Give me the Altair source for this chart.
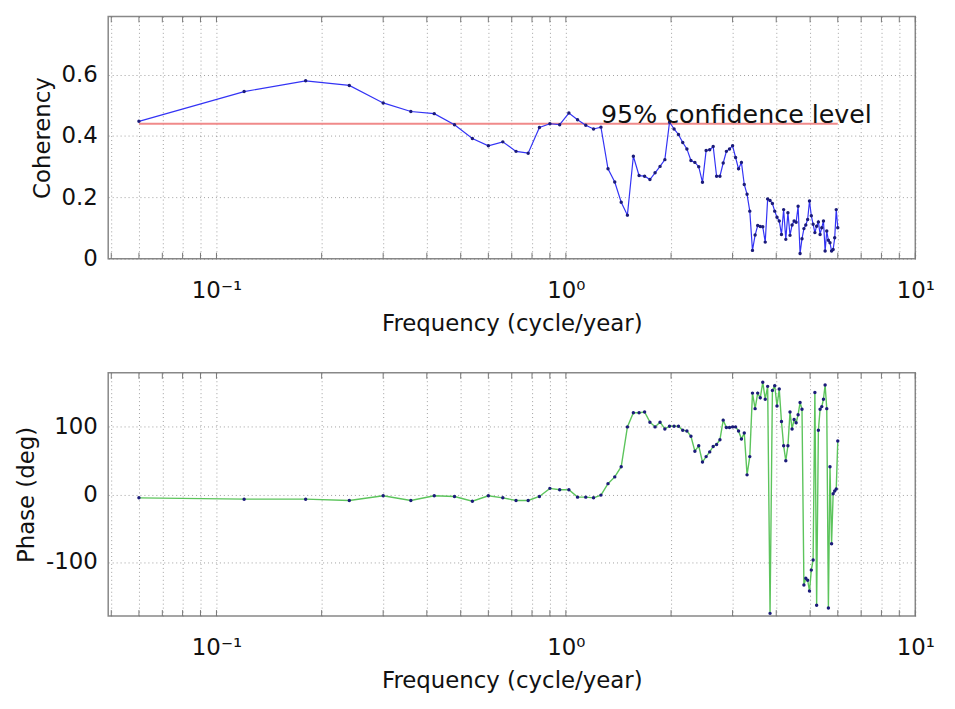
import altair as alt
import pandas as pd

# ---------------- data ----------------
freq = [0.06, 0.12, 0.18, 0.24, 0.30, 0.36, 0.42, 0.48, 0.54, 0.60,
        0.66, 0.72, 0.78, 0.84, 0.90, 0.96, 1.02, 1.08, 1.14, 1.20,
        1.26, 1.32, 1.38, 1.44, 1.50, 1.56, 1.62, 1.68, 1.74, 1.80,
        1.86, 1.92, 1.98, 2.04, 2.10, 2.16, 2.22, 2.28, 2.34, 2.40,
        2.46, 2.52, 2.58, 2.64, 2.70, 2.76, 2.82, 2.88, 2.94, 3.00,
        3.06, 3.12, 3.18, 3.24, 3.30, 3.36, 3.42, 3.48, 3.54, 3.60,
        3.66, 3.72, 3.78, 3.84, 3.90, 3.96, 4.02, 4.08, 4.14, 4.20,
        4.26, 4.32, 4.38, 4.44, 4.50, 4.56, 4.62, 4.68, 4.74, 4.80,
        4.86, 4.92, 4.98, 5.04, 5.10, 5.16, 5.22, 5.28, 5.34, 5.40,
        5.46, 5.52, 5.58, 5.64, 5.70, 5.76, 5.82, 5.88, 5.94, 6.00]

coherency = [0.448, 0.545, 0.580, 0.565, 0.508, 0.480, 0.473, 0.437, 0.392, 0.368,
             0.381, 0.350, 0.344, 0.428, 0.440, 0.437, 0.475, 0.453, 0.435, 0.423,
             0.429, 0.293, 0.250, 0.184, 0.142, 0.334, 0.271, 0.269, 0.258, 0.280,
             0.301, 0.323, 0.445, 0.423, 0.405, 0.379, 0.358, 0.320, 0.314, 0.300,
             0.249, 0.353, 0.355, 0.366, 0.269, 0.269, 0.312, 0.350, 0.358, 0.368,
             0.330, 0.293, 0.314, 0.242, 0.210, 0.155, 0.027, 0.077, 0.108, 0.105,
             0.104, 0.054, 0.195, 0.190, 0.180, 0.155, 0.135, 0.123, 0.079, 0.160,
             0.063, 0.150, 0.076, 0.110, 0.123, 0.119, 0.171, 0.017, 0.065, 0.098,
             0.110, 0.128, 0.188, 0.140, 0.112, 0.085, 0.106, 0.120, 0.079, 0.101,
             0.123, 0.025, 0.090, 0.060, 0.052, 0.025, 0.030, 0.068, 0.160, 0.101]

phase = [-5, -7, -7, -9, -2, -9, -2, -3, -10, -2,
         -5, -9, -9, -3, 9, 7, 7, -4, -4, -5,
         -1, 16, 26, 41, 100, 121, 121, 122, 107, 100,
         107, 97, 101, 101, 101, 95, 94, 86, 64, 72,
         48, 56, 63, 71, 74, 81, 110, 99, 99, 100,
         100, 94, 82, 91, 29, 56, 150, 127, 150, 143,
         166, 141, 160, -176, 154, 161, 131, 156, 108, 72,
         50, 72, 122, 97, 111, 106, 118, 136, 126, -134,
         -124, -127, -143, -112, -97, 151, -164, 95, 126, 130,
         141, 162, 127, -168, 41, -73, 1, 5, 8, 79]

conf_freq = [0.06, 6.0]
conf_level = [0.44, 0.44]

label_text = ["95% confidence level"]
label_freq = [1.26]
label_coh = [0.47]

grid_ticks = [0.05, 0.06, 0.07, 0.08, 0.09,
              0.1, 0.2, 0.3, 0.4, 0.5, 0.6, 0.7, 0.8, 0.9,
              1, 2, 3, 4, 5, 6, 7, 8, 9, 10]

coh_ticks = [0, 0.2, 0.4, 0.6]
phase_ticks = [-100, 0, 100]

# ---------------- styling ----------------
FONT = "DejaVu Sans"
W = 813
H1 = 244
H2 = 245
FS = 23

df = pd.DataFrame({"f": freq, "coh": coherency, "ph": phase})
conf_df = pd.DataFrame({"f": conf_freq, "c": conf_level})
lab_df = pd.DataFrame({"f": label_freq, "c": label_coh, "t": label_text})
tick_df = pd.DataFrame({"f": grid_ticks})

label_expr = ("datum.value == 0.1 ? '10\u207b\u00b9' : datum.value == 1 ? '10\u2070' : "
              "datum.value == 10 ? '10\u00b9' : ''")

xscale = alt.Scale(type="log", domain=[0.049, 10], nice=False)


def x_enc(title):
    return alt.X("f:Q", scale=xscale, title=title,
                 axis=alt.Axis(values=grid_ticks, labelExpr=label_expr, ticks=False,
                               domain=False, grid=True, gridDash=[1, 3], gridColor="#777",
                               gridOpacity=0.7, labelOverlap=False, labelFlush=False,
                               labelPadding=21, titlePadding=10,
                               labelFontSize=FS, titleFontSize=FS,
                               labelFont=FONT, titleFont=FONT, labelColor="#111",
                               titleColor="#111", titleFontWeight="normal"))


def tick_layers(h):
    base = alt.Chart(tick_df)
    bot = base.mark_rule(color="#777", strokeWidth=1).encode(
        x=alt.X("f:Q", scale=xscale), y=alt.value(h), y2=alt.value(h - 6))
    top = base.mark_rule(color="#777", strokeWidth=1).encode(
        x=alt.X("f:Q", scale=xscale), y=alt.value(0), y2=alt.value(6))
    return [bot, top]


def y_axis(values, title_pad):
    return alt.Axis(values=values, ticks=False, domain=False, grid=True,
                    gridDash=[1, 3], gridColor="#777", gridOpacity=0.7,
                    labelExpr="datum.value == 0 ? '0' : '' + datum.value",
                    labelPadding=11, titlePadding=title_pad, labelFontSize=FS,
                    titleFontSize=FS, labelFont=FONT, titleFont=FONT,
                    labelColor="#111", titleColor="#111",
                    titleFontWeight="normal")


# ---------------- top panel ----------------
ycoh = alt.Y("coh:Q", scale=alt.Scale(domain=[0, 0.79], nice=False), title="Coherency",
             axis=y_axis(coh_ticks, 7))

base1 = alt.Chart(df)
coh_line = base1.mark_line(color="#3333f5", strokeWidth=1.2).encode(
    x=x_enc("Frequency (cycle/year)"), y=ycoh)
coh_pts = base1.mark_circle(color="#1b1b7a", size=12, opacity=1).encode(
    x=alt.X("f:Q", scale=xscale), y=alt.Y("coh:Q"))
conf = alt.Chart(conf_df).mark_line(color="#f08a8a", strokeWidth=2).encode(
    x=alt.X("f:Q", scale=xscale), y=alt.Y("c:Q"))
txt = alt.Chart(lab_df).mark_text(align="left", baseline="middle", font=FONT,
                                  fontSize=25.5, color="#111").encode(
    x=alt.X("f:Q", scale=xscale), y=alt.Y("c:Q"), text="t:N")

top = alt.layer(conf, coh_line, coh_pts, txt, *tick_layers(H1)).properties(width=W, height=H1)

# ---------------- bottom panel ----------------
yph = alt.Y("ph:Q", scale=alt.Scale(domain=[-180, 180], nice=False), title="Phase (deg)",
            axis=y_axis(phase_ticks, 7))

base2 = alt.Chart(df)
ph_line = base2.mark_line(color="#5cc45c", strokeWidth=1.4).encode(
    x=x_enc("Frequency (cycle/year)"), y=yph)
ph_pts = base2.mark_circle(color="#1b1b7a", size=12, opacity=1).encode(
    x=alt.X("f:Q", scale=xscale), y=alt.Y("ph:Q"))

bottom = alt.layer(ph_line, ph_pts, *tick_layers(H2)).properties(width=W, height=H2)

chart = alt.vconcat(top, bottom, spacing=35).configure_view(
    stroke="#888", strokeWidth=1.5
).properties(
    padding={"left": 15, "top": 12, "right": 20, "bottom": 5},
    background="white"
)

chart.save("out.html", embed_options={"renderer": "svg", "actions": False})
